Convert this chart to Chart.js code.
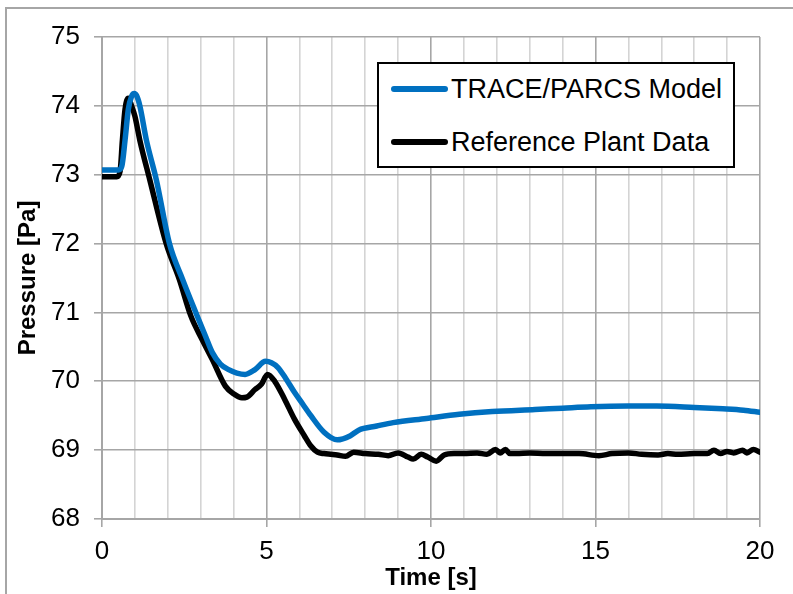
<!DOCTYPE html>
<html lang="en">
<head>
  <meta charset="UTF-8" />
  <title>Pressure Transient</title>
  <script src="https://cdn.jsdelivr.net/npm/chart.js"></script>
  <style>
    body {
      margin: 0;
      padding: 0;
      background: #ffffff;
      font-family: 'Liberation Sans', Arial, sans-serif;
    }

    .wrap {
      position: relative;
      width: 793px;
      height: 594px;
      overflow: hidden;
      background: #ffffff;
    }

    /* outer chart frame, cut off at right and bottom */
    .frame {
      position: absolute;
      left: 5px;
      top: 7px;
      width: 820px;
      height: 620px;
      border: 2px solid #a6a6a6;
    }

    canvas {
      position: absolute;
      left: 0;
      top: 0;
    }

    .legend {
      position: absolute;
      left: 377px;
      top: 62px;
      width: 354px;
      height: 102px;
      border: 2px solid #000;
      background: #fff;
    }

    .legend .item {
      position: absolute;
      left: 0;
      height: 30px;
      display: flex;
      align-items: center;
      font-size: 27px;
      color: #000;
      white-space: nowrap;
    }

    .legend .swatch {
      width: 57px;
      height: 6px;
      border-radius: 3px;
      margin-left: 12px;
      margin-right: 3px;
    }
  </style>
</head>
<body>

  <div class="wrap">
    <div class="frame"></div>
    <canvas id="chart" width="793" height="594"></canvas>
    <div class="legend" id="legend"></div>
  </div>

  <script>
    // TRACE/PARCS model curve
    const modelTime = [0, 0.5, 0.6, 0.7, 0.8, 0.9, 0.98, 1.05, 1.15, 1.35, 1.65, 2.05, 2.45, 2.85, 3.15, 3.35, 3.6,
      3.85, 4.1, 4.35, 4.65, 4.97, 5.15, 5.35, 5.6, 5.85, 6.1, 6.35, 6.75, 7.15, 7.55, 7.8, 8.35, 8.85, 9.86, 10.86,
      11.86, 13.16, 14.0, 14.86, 16.0, 16.86, 18.0, 18.87, 19.5, 20];
    const modelPressure = [73.07, 73.07, 73.12, 73.5, 73.95, 74.14, 74.18, 74.15, 74.0, 73.5, 72.93, 72.0, 71.48,
      71.0, 70.65, 70.42, 70.25, 70.17, 70.12, 70.1, 70.17, 70.29, 70.27, 70.2, 70.03, 69.84, 69.67, 69.5, 69.26,
      69.15, 69.21, 69.29, 69.35, 69.4, 69.46, 69.52, 69.56, 69.59, 69.61, 69.63, 69.64, 69.64, 69.62, 69.6,
      69.58, 69.55];

    // reference plant measurement
    const plantTime = [0, 0.45, 0.55, 0.62, 0.7, 0.8, 0.9, 1.0, 1.15, 1.45, 1.95, 2.35, 2.7, 3.05, 3.35, 3.75, 4.0,
      4.25, 4.4, 4.65, 4.85, 5.03, 5.25, 5.55, 5.85, 6.15, 6.35, 6.55, 6.75, 6.95, 7.15, 7.4, 7.65, 8.0, 8.4, 8.7,
      9.0, 9.3, 9.46, 9.7, 9.9, 10.16, 10.4, 10.7, 11.0, 11.4, 11.7, 11.96, 12.1, 12.26, 12.4, 12.6, 13.0, 13.5,
      14.0, 14.5, 15.1, 15.5, 16.0, 16.4, 16.9, 17.2, 17.5, 18.0, 18.4, 18.6, 18.8, 19.0, 19.2, 19.47, 19.6, 19.8, 20];
    const plantPressure = [72.97, 72.97, 73.05, 73.5, 73.95, 74.11, 74.0, 73.85, 73.5, 72.93, 72.0, 71.48, 70.95,
      70.6, 70.32, 69.93, 69.82, 69.76, 69.77, 69.88, 69.96, 70.1, 70.0, 69.74, 69.45, 69.21, 69.06, 68.97, 68.95,
      68.94, 68.93, 68.91, 68.97, 68.95, 68.94, 68.92, 68.96, 68.9, 68.87, 68.94, 68.9, 68.84, 68.93, 68.95, 68.95,
      68.96, 68.94, 69.01, 68.96, 69.01, 68.95, 68.95, 68.96, 68.95, 68.95, 68.95, 68.92, 68.95, 68.96, 68.94,
      68.93, 68.95, 68.94, 68.95, 68.95, 69.0, 68.95, 68.98, 68.96, 69.0, 68.96, 69.01, 68.97];

    const seriesNames = ['TRACE/PARCS Model', 'Reference Plant Data'];
    const seriesColors = ['#0070c0', '#000000'];

    const xTitle = 'Time [s]';
    const yTitle = 'Pressure [Pa]';

    const font = "'Liberation Sans', Arial, sans-serif";
    const majorGrid = '#a6a6a6';
    const minorGrid = '#d4d4d4';

    const toPoints = (xs, ys) => xs.map((x, i) => ({ x: x, y: ys[i] }));

    const chart = new Chart(document.getElementById('chart'), {
      type: 'line',
      data: {
        datasets: [
          {
            label: seriesNames[0],
            data: toPoints(modelTime, modelPressure),
            borderColor: seriesColors[0],
            backgroundColor: seriesColors[0],
            borderWidth: 5.5,
            pointRadius: 0,
            cubicInterpolationMode: 'monotone',
            borderCapStyle: 'round',
            borderJoinStyle: 'round'
          },
          {
            label: seriesNames[1],
            data: toPoints(plantTime, plantPressure),
            borderColor: seriesColors[1],
            backgroundColor: seriesColors[1],
            borderWidth: 5.5,
            pointRadius: 0,
            cubicInterpolationMode: 'monotone',
            borderCapStyle: 'round',
            borderJoinStyle: 'round'
          }
        ]
      },
      options: {
        responsive: false,
        animation: false,
        layout: {
          padding: { left: 0, top: 37, right: 33, bottom: 0 }
        },
        plugins: {
          legend: { display: false },
          tooltip: { enabled: false }
        },
        scales: {
          x: {
            type: 'linear',
            min: 0,
            max: 20,
            afterFit: s => { s.height = 75; },
            border: { color: majorGrid, width: 2 },
            grid: {
              lineWidth: 1.6,
              tickLength: 8,
              color: c => (c.tick && c.tick.value % 5 === 0) ? majorGrid : minorGrid,
              tickColor: c => (c.tick && c.tick.value % 5 === 0) ? majorGrid : 'rgba(0,0,0,0)'
            },
            ticks: {
              stepSize: 1,
              autoSkip: false,
              maxRotation: 0,
              padding: 9,
              color: '#000',
              font: { family: font, size: 26 },
              callback: v => (v % 5 === 0 ? v : '')
            },
            title: {
              display: true,
              text: xTitle,
              color: '#000',
              font: { family: font, size: 24, weight: 'bold' },
              padding: { top: 0, bottom: 1 }
            }
          },
          y: {
            min: 68,
            max: 75,
            afterFit: s => { s.width = 102; },
            border: { color: majorGrid, width: 2 },
            grid: {
              lineWidth: 1.6,
              tickLength: 8,
              color: majorGrid,
              tickColor: majorGrid
            },
            ticks: {
              stepSize: 1,
              padding: 14,
              color: '#000',
              font: { family: font, size: 26 }
            },
            title: {
              display: true,
              text: yTitle,
              color: '#000',
              font: { family: font, size: 24, weight: 'bold' },
              padding: { top: 14, bottom: 0 }
            }
          }
        }
      }
    });

    // html legend built from the datasets
    const legendBox = document.getElementById('legend');
    chart.data.datasets.forEach((ds, i) => {
      const item = document.createElement('div');
      item.className = 'item';
      item.style.top = (i === 0 ? 10 : 63) + 'px';
      const sw = document.createElement('span');
      sw.className = 'swatch';
      sw.style.background = ds.borderColor;
      const txt = document.createElement('span');
      txt.textContent = ds.label;
      item.appendChild(sw);
      item.appendChild(txt);
      legendBox.appendChild(item);
    });
  </script>
</body>
</html>
